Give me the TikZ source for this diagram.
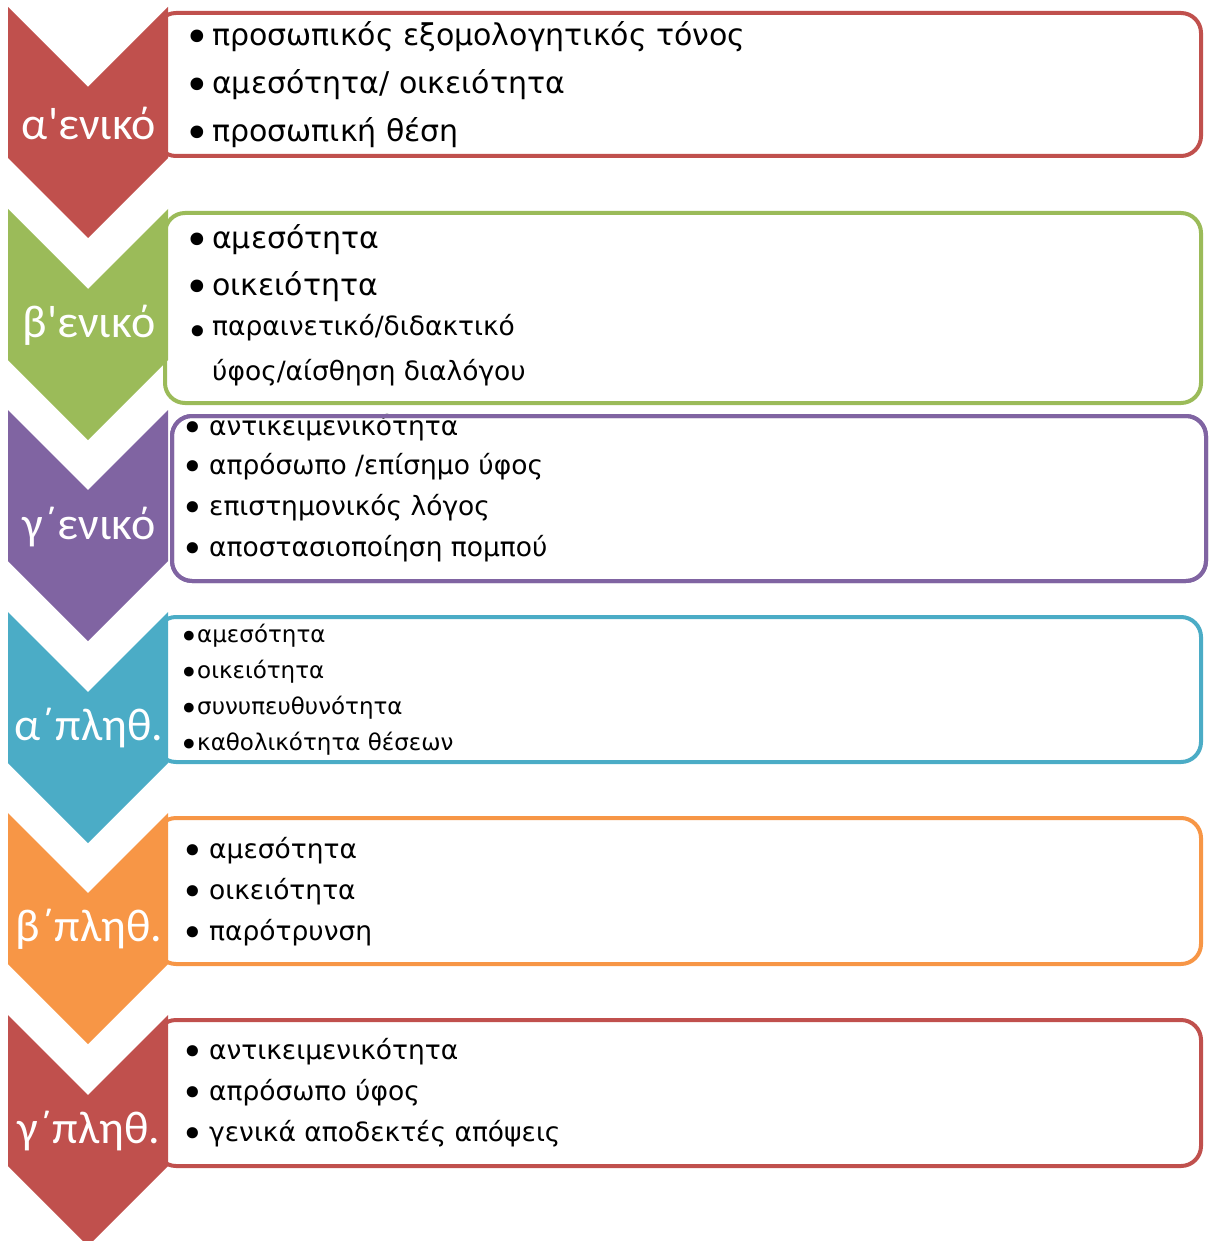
\documentclass[tikz,border=0pt]{standalone}
\usepackage{fontspec}
\setmainfont{DejaVu Sans}[Ligatures=TeXOff]
\newfontfamily\lblfont{Carlito}[Ligatures=TeXOff]
\usepackage{xcolor}
\usepackage{tikz}

\definecolor{redc}{HTML}{C0504D}
\definecolor{greenc}{HTML}{9BBB59}
\definecolor{purplec}{HTML}{8064A2}
\definecolor{bluec}{HTML}{4BACC6}
\definecolor{orangec}{HTML}{F79646}

% larger bullet
\newcommand{\bul}{\raisebox{-0.25em}{\scalebox{1.45}{•}}}

\begin{document}
\begin{tikzpicture}[
    x=1pt, y=-1pt,
    box/.style={rectangle, line width=4pt, rounded corners=20pt, fill=white, inner sep=0pt, outer sep=0pt, anchor=north west},
    label/.style={text=white, font=\lblfont\fontsize{46}{46}\selectfont, inner sep=0pt},
    itemA/.style={anchor=west, inner sep=0pt, font=\fontsize{30}{30}\selectfont},
    itemB/.style={anchor=west, inner sep=0pt, font=\fontsize{26.5}{26.5}\selectfont},
    itemC/.style={anchor=west, inner sep=0pt, font=\fontsize{23}{23}\selectfont}
]
    \useasboundingbox (0,0) rectangle (1208,1241);

    % Boxes
    \node[box, draw=redc, minimum width=1045pt, minimum height=143pt] (box1) at (156,13) {};
    \node[box, draw=greenc, minimum width=1036pt, minimum height=190pt] (box2) at (165,213) {};
    \node[box, draw=purplec, minimum width=1034pt, minimum height=165pt] (box3) at (172,416) {};
    \node[box, draw=bluec, minimum width=1045pt, minimum height=145pt] (box4) at (156,617) {};
    \node[box, draw=orangec, minimum width=1045pt, minimum height=146pt] (box5) at (156,818) {};
    \node[box, draw=redc, minimum width=1045pt, minimum height=146pt] (box6) at (156,1020) {};

    % Chevrons
    \fill[redc] (8,7) -- ++(80,80) -- ++(80,-80) -- ++(0,151) -- ++(-80,80) -- ++(-80,-80) -- cycle;
    \fill[greenc] (8,209) -- ++(80,80) -- ++(80,-80) -- ++(0,151) -- ++(-80,80) -- ++(-80,-80) -- cycle;
    \fill[purplec] (8,410) -- ++(80,80) -- ++(80,-80) -- ++(0,151) -- ++(-80,80) -- ++(-80,-80) -- cycle;
    \fill[bluec] (8,612) -- ++(80,80) -- ++(80,-80) -- ++(0,151) -- ++(-80,80) -- ++(-80,-80) -- cycle;
    \fill[orangec] (8,813) -- ++(80,80) -- ++(80,-80) -- ++(0,151) -- ++(-80,80) -- ++(-80,-80) -- cycle;
    \fill[redc] (8,1015) -- ++(80,80) -- ++(80,-80) -- ++(0,151) -- ++(-80,80) -- ++(-80,-80) -- cycle;

    % Labels
    \node[label] (lbl1) at (89,123) {α'ενικό};
    \node[label] (lbl2) at (89,325) {β'ενικό};
    \node[label] (lbl3) at (89,527) {γ΄ενικό};
    \node[label] (lbl4) at (89,728) {α΄πληθ.};
    \node[label] (lbl5) at (89,929) {β΄πληθ.};
    \node[label] (lbl6) at (89,1131) {γ΄πληθ.};

    % Box 1
    \node[itemA] (t1a) at (212,37) {\llap{\bul\kern2pt}προσωπικός εξομολογητικός τόνος};
    \node[itemA] (t1b) at (212,85) {\llap{\bul\kern2pt}αμεσότητα/ οικειότητα};
    \node[itemA] (t1c) at (212,133) {\llap{\bul\kern2pt}προσωπική θέση};

    % Box 2
    \node[itemA] (t2a) at (212,240) {\llap{\bul\kern2pt}αμεσότητα};
    \node[itemA] (t2b) at (212,287) {\llap{\bul\kern2pt}οικειότητα};
    \node[itemB] (t2c) at (212,330) {\llap{\raisebox{-3pt}{\bul}\kern3pt}παραινετικό/διδακτικό};
    \node[itemB] (t2d) at (212,373) {ύφος/αίσθηση διαλόγου};

    % Box 3
    \node[itemB] (t3a) at (209,428) {\llap{\bul\kern5pt}αντικειμενικότητα};
    \node[itemB] (t3b) at (209,467) {\llap{\bul\kern5pt}απρόσωπο /επίσημο ύφος};
    \node[itemB] (t3c) at (209,508) {\llap{\bul\kern5pt}επιστημονικός λόγος};
    \node[itemB] (t3d) at (209,549) {\llap{\bul\kern5pt}αποστασιοποίηση πομπού};
    % border over the first line
    \draw[purplec, line width=4pt, rounded corners=20pt] (box3.north west) rectangle (box3.south east);

    % Box 4
    \node[itemC] (t4a) at (197,636) {\llap{\bul\kern-2pt}αμεσότητα};
    \node[itemC] (t4b) at (197,672) {\llap{\bul\kern-2pt}οικειότητα};
    \node[itemC] (t4c) at (197,708) {\llap{\bul\kern-2pt}συνυπευθυνότητα};
    \node[itemC] (t4d) at (197,744) {\llap{\bul\kern-2pt}καθολικότητα θέσεων};

    % Box 5
    \node[itemB] (t5a) at (209,851) {\llap{\bul\kern5pt}αμεσότητα};
    \node[itemB] (t5b) at (209,892) {\llap{\bul\kern5pt}οικειότητα};
    \node[itemB] (t5c) at (209,933) {\llap{\bul\kern5pt}παρότρυνση};

    % Box 6
    \node[itemB] (t6a) at (209,1052) {\llap{\bul\kern5pt}αντικειμενικότητα};
    \node[itemB] (t6b) at (209,1093) {\llap{\bul\kern5pt}απρόσωπο ύφος};
    \node[itemB] (t6c) at (209,1134) {\llap{\bul\kern5pt}γενικά αποδεκτές απόψεις};
\end{tikzpicture}
\end{document}
